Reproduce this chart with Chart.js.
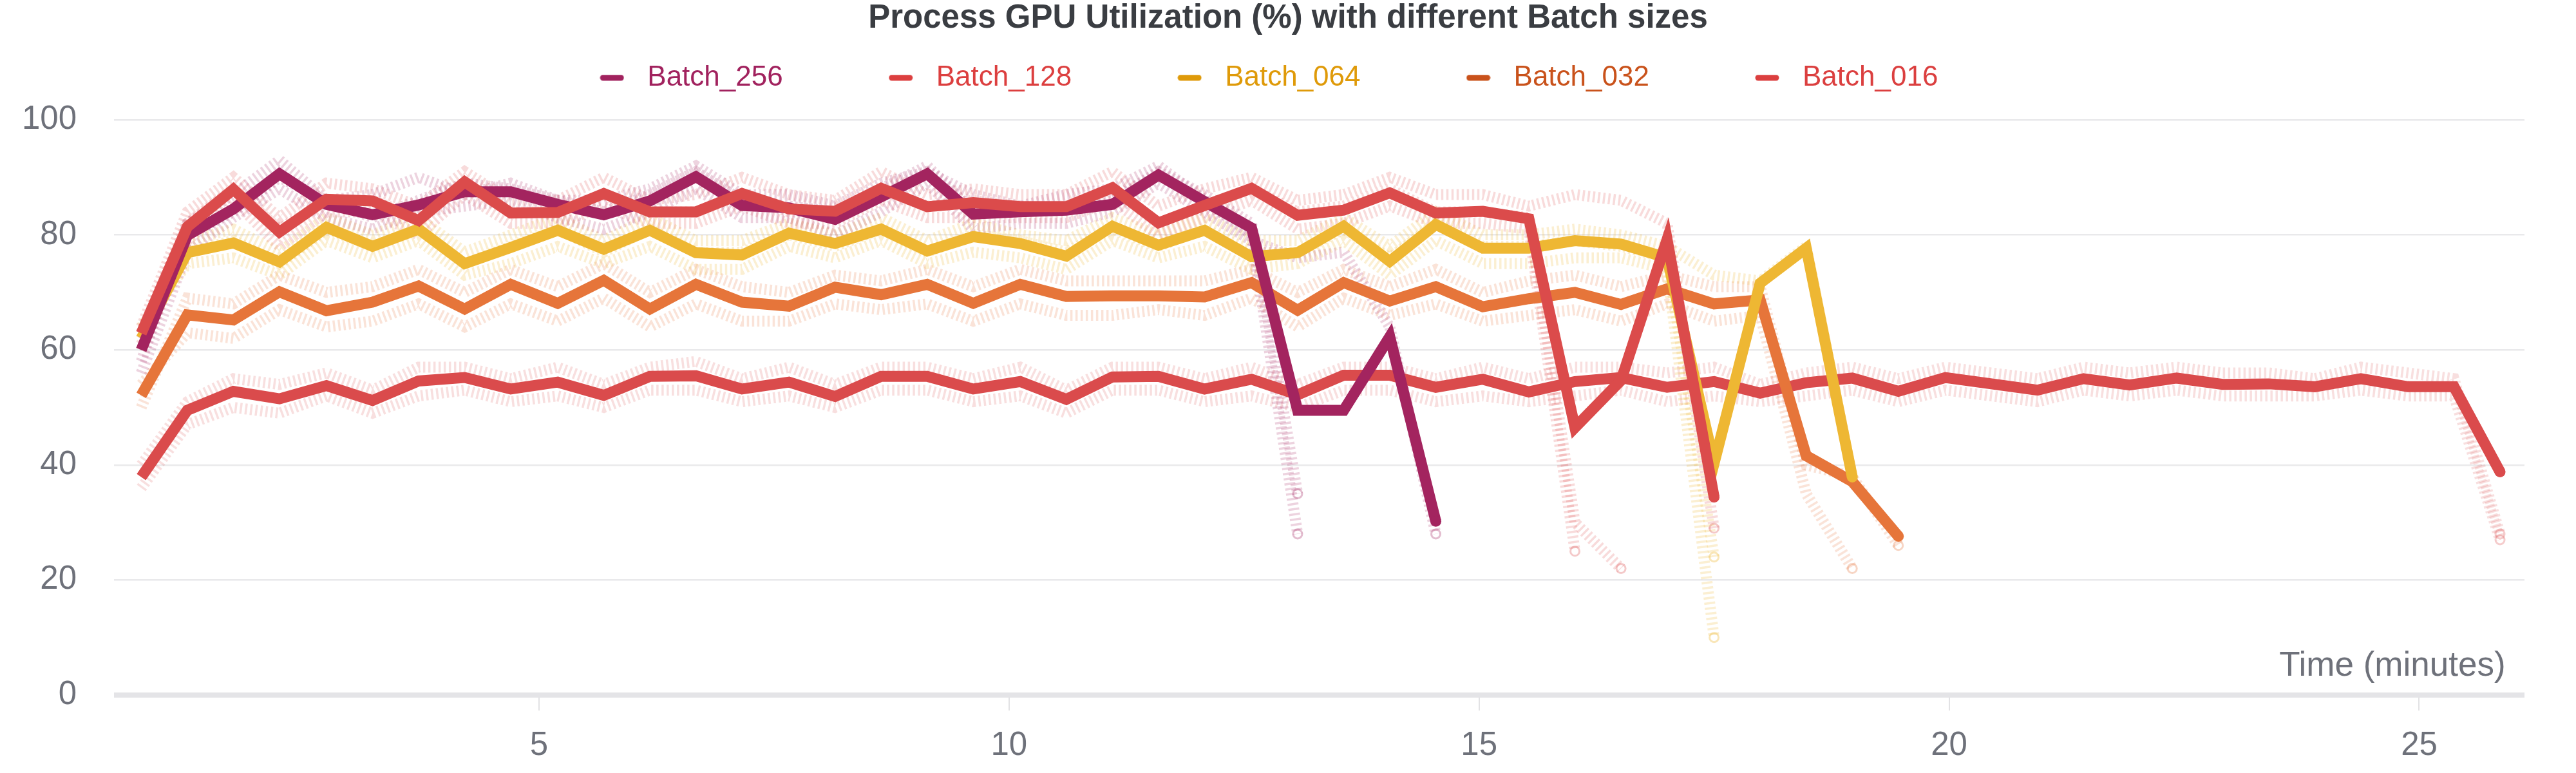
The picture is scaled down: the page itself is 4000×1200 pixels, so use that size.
<!DOCTYPE html>
<html>
<head>
<meta charset="utf-8">
<script src="https://cdn.jsdelivr.net/npm/chart.js@4.4.1/dist/chart.umd.min.js"></script>
<style>
html,body{margin:0;padding:0;background:#ffffff;}
canvas{display:block;}
</style>
</head>
<body>
<canvas id="chart" width="4000" height="1200" style="width:4000px;height:1200px"></canvas>
<script>
// ---------------- DATA ----------------
const chartTitle = 'Process GPU Utilization (%) with different Batch sizes';
const xAxisTitle = 'Time (minutes)';
const seriesNames = ['Batch_256', 'Batch_128', 'Batch_064', 'Batch_032', 'Batch_016'];
const xTickValues = [5, 10, 15, 20, 25];
const yTickValues = [0, 20, 40, 60, 80, 100];

// sample times (minutes)
const times = [0.77, 1.26, 1.75, 2.24, 2.74, 3.23, 3.72, 4.21, 4.70, 5.20, 5.69, 6.18, 6.67, 7.16, 7.66, 8.15, 8.64,
  9.13, 9.62, 10.12, 10.61, 11.10, 11.59, 12.08, 12.58, 13.07, 13.56, 14.05, 14.54, 15.04, 15.53, 16.02, 16.51,
  17.00, 17.50, 17.99, 18.48, 18.97, 19.46, 19.96, 20.45, 20.94, 21.43, 21.92, 22.42, 22.91, 23.40, 23.89, 24.38,
  24.88, 25.37, 25.86];

// main (mean) lines
const batch256 = [60.0, 79.9, 84.5, 90.6, 85.3, 83.5, 85.2, 87.5, 87.5, 85.3, 83.5, 85.9, 90.1, 85.1, 84.7, 82.7, 86.6,
  90.6, 83.6, 84.0, 84.3, 85.3, 90.4, 85.8, 81.2, 49.5, 49.5, 62.3, 30.2];
const batch128 = [62.9, 81.4, 87.9, 80.5, 86.2, 85.9, 82.5, 89.2, 83.8, 83.9, 87.2, 84.0, 84.0, 87.2, 84.5, 84.1, 88.1,
  84.9, 85.6, 84.9, 84.9, 88.2, 82.1, 85.1, 88.1, 83.4, 84.3, 87.3, 83.8, 84.1, 82.8, 46.5, 54.7, 79.2, 34.4];
const batch064 = [62.0, 76.9, 78.6, 75.3, 81.3, 78.0, 81.0, 75.0, 77.8, 80.8, 77.5, 80.8, 76.9, 76.5, 80.3, 78.5, 81.0,
  77.2, 79.7, 78.5, 76.3, 81.5, 78.2, 80.8, 76.2, 76.9, 81.5, 75.4, 81.8, 77.7, 77.7, 79.0, 78.4, 76.0, 40.3, 71.6,
  77.7, 37.9];
const batch032 = [52.1, 66.1, 65.2, 70.1, 66.8, 68.3, 71.1, 67.1, 71.4, 68.1, 72.1, 67.1, 71.4, 68.3, 67.6, 70.9, 69.6,
  71.4, 68.1, 71.4, 69.3, 69.4, 69.4, 69.2, 71.7, 66.9, 71.7, 68.5, 71.0, 67.5, 68.9, 70.0, 67.9, 70.6, 68.0, 68.7,
  41.6, 37.1, 27.6];
const batch016 = [37.9, 49.5, 52.8, 51.5, 53.8, 51.2, 54.6, 55.2, 53.2, 54.4, 52.1, 55.4, 55.5, 53.2, 54.4, 51.9, 55.4,
  55.4, 53.2, 54.5, 51.4, 55.3, 55.4, 53.2, 54.9, 52.2, 55.6, 55.6, 53.5, 54.9, 52.7, 54.5, 55.2, 53.5, 54.5, 52.5,
  54.3, 55.1, 52.8, 55.2, 54.1, 53.0, 55.0, 53.9, 55.1, 54.0, 54.1, 53.6, 55.0, 53.6, 53.6, 38.8];

// faint individual runs (estimated from the hatched traces)
const run256a = [58, 82, 87, 93, 86, 87, 90, 87, 89, 86, 86, 88, 92, 87, 87, 85, 89, 91, 87, 85, 87, 88, 92, 86, 80, 28];
const run256b = [56, 77, 83, 88, 83, 81, 84, 85, 86, 83, 81, 84, 88, 83, 83, 80, 84, 89, 81, 82, 82, 84, 89, 84, 79, 76, 77, 64, 28];
const run256c = [62, 80, 84, 90, 86, 83, 86, 89, 88, 86, 84, 87, 91, 86, 85, 84, 88, 92, 84, 85, 85, 86, 91, 87, 82, 35];
const run128a = [64, 84, 90, 83, 89, 88, 85, 91, 86, 86, 90, 86, 87, 90, 87, 86, 91, 87, 88, 87, 87, 91, 85, 88, 90, 86, 87, 90, 87, 87, 85, 87, 86, 82, 29];
const run128b = [61, 79, 86, 78, 84, 84, 80, 87, 82, 82, 85, 82, 82, 85, 82, 82, 86, 83, 83, 83, 83, 86, 80, 83, 86, 81, 82, 85, 82, 82, 81, 25];
const run128c = [63, 82, 88, 81, 86, 86, 83, 89, 84, 84, 87, 84, 84, 87, 84, 84, 88, 85, 86, 85, 85, 88, 82, 85, 88, 84, 85, 88, 84, 84, 83, 30, 22];
const run064a = [60, 79, 81, 77, 83, 80, 83, 77, 80, 83, 79, 83, 79, 79, 82, 80, 83, 79, 82, 80, 79, 83, 80, 83, 79, 79, 83, 78, 84, 80, 80, 81, 80, 78, 73, 72, 78, 38];
const run064b = [64, 75, 76, 73, 79, 76, 79, 73, 75, 78, 75, 78, 74, 74, 78, 76, 79, 75, 77, 76, 74, 79, 76, 78, 74, 75, 79, 73, 79, 75, 75, 76, 76, 74, 10];
const run064c = [62, 77, 79, 75, 81, 78, 81, 75, 78, 81, 77, 81, 77, 77, 80, 78, 81, 77, 80, 79, 77, 81, 78, 81, 77, 77, 81, 76, 82, 78, 78, 79, 78, 76, 24];
const run032a = [50, 69, 68, 73, 70, 71, 74, 70, 74, 71, 75, 70, 74, 71, 70, 73, 72, 74, 71, 74, 72, 72, 72, 72, 74, 70, 74, 71, 74, 70, 72, 73, 71, 73, 71, 71, 40, 38, 26];
const run032b = [54, 63, 62, 67, 64, 65, 68, 64, 68, 65, 69, 64, 68, 65, 65, 68, 67, 68, 65, 68, 66, 66, 67, 66, 69, 64, 69, 66, 68, 65, 66, 67, 65, 68, 65, 66, 35, 22];
const run016a = [40, 51, 55, 54, 56, 53, 57, 57, 55, 57, 54, 57, 58, 55, 57, 54, 57, 57, 55, 57, 53, 57, 57, 55, 57, 54, 57, 57, 55, 57, 55, 57, 57, 56, 57, 54, 56, 57, 55, 57, 56, 55, 57, 56, 57, 56, 56, 55, 57, 56, 55, 28];
const run016b = [36, 47, 50, 49, 52, 49, 52, 53, 51, 52, 50, 53, 53, 51, 52, 50, 53, 53, 51, 52, 49, 53, 53, 51, 52, 50, 53, 53, 51, 52, 51, 52, 53, 51, 52, 51, 52, 53, 51, 53, 52, 51, 53, 52, 53, 52, 52, 52, 53, 52, 52, 27];

// ---------------- STYLE ----------------
const lineColors = ['#A3245F', '#DB4B4B', '#EEB733', '#E6753A', '#DA4B4C'];
const faintColors = ['rgba(163,36,95,0.20)', 'rgba(219,75,75,0.20)', 'rgba(238,183,51,0.22)', 'rgba(230,117,58,0.20)', 'rgba(218,75,76,0.18)'];
const faintPointColors = ['rgba(163,36,95,0.30)', 'rgba(219,75,75,0.30)', 'rgba(238,183,51,0.35)', 'rgba(230,117,58,0.30)', 'rgba(218,75,76,0.28)'];
const legendColors = ['#A1225E', '#DC3F3F', '#DF9A09', '#C9521B', '#DB3F3F'];
const drawOrder = [2, 1, 3, 4, 5];
const tickColor = '#6E717A';

Chart.defaults.font.family = "'Liberation Sans', Arial, Helvetica, sans-serif";

const mainSeries = [batch256, batch128, batch064, batch032, batch016];
const faintSeries = [
  [run256a, run256b, run256c],
  [run128a, run128b, run128c],
  [run064a, run064b, run064c],
  [run032a, run032b],
  [run016a, run016b]
];

function toPoints(values) {
  return values.map((v, i) => ({ x: times[i], y: v }));
}

const datasets = [];
faintSeries.forEach((runs, s) => {
  runs.forEach((run) => {
    datasets.push({
      label: seriesNames[s] + ' run',
      data: toPoints(run),
      borderColor: faintColors[s],
      borderWidth: 17,
      borderDash: [3.5, 4.5],
      borderCapStyle: 'butt',
      tension: 0,
      fill: false,
      order: 20,
      pointRadius: (ctx) => (ctx.dataIndex === run.length - 1 ? 7 : 0),
      pointBackgroundColor: 'rgba(255,255,255,0)',
      pointBorderColor: faintPointColors[s],
      pointBorderWidth: 3,
      pointHoverRadius: 0
    });
  });
});
const mainIndex = [];
mainSeries.forEach((vals, s) => {
  mainIndex.push(datasets.length);
  datasets.push({
    label: seriesNames[s],
    data: toPoints(vals),
    borderColor: lineColors[s],
    backgroundColor: lineColors[s],
    borderWidth: 17,
    borderCapStyle: 'butt',
    borderJoinStyle: 'miter',
    tension: 0,
    fill: false,
    order: drawOrder[s],
    pointRadius: (ctx) => (ctx.dataIndex === vals.length - 1 ? 8.5 : 0),
    pointBackgroundColor: lineColors[s],
    pointBorderWidth: 0,
    pointHoverRadius: 0
  });
});

// legend markers (short round-capped line)
function makeMarker(color) {
  const c = document.createElement('canvas');
  c.width = 38; c.height = 10;
  const g = c.getContext('2d');
  g.strokeStyle = color; g.lineWidth = 9; g.lineCap = 'round';
  g.beginPath(); g.moveTo(5, 5); g.lineTo(33, 5); g.stroke();
  return c;
}
const markers = legendColors.map(makeMarker);
const legendPad = ['         ', '         ', '         ', '         ', '      '];

const legendGap = {
  id: 'legendGap',
  afterInit(chart) {
    if (!chart.legend) return;
    const fit = chart.legend.fit;
    chart.legend.fit = function () { fit.call(this); this.height += 33.35; };
  }
};

new Chart(document.getElementById('chart'), {
  type: 'line',
  data: { datasets },
  plugins: [legendGap],
  options: {
    responsive: false,
    animation: false,
    devicePixelRatio: 1,
    events: [],
    layout: { padding: { left: 80, right: 80, top: 0, bottom: 0 } },
    plugins: {
      tooltip: { enabled: false },
      title: {
        display: true,
        text: chartTitle,
        color: '#3A3D42',
        font: { size: 51, weight: 'bold', lineHeight: 1.15 },
        padding: { top: 0, bottom: 0 }
      },
      legend: {
        display: true,
        position: 'top',
        labels: {
          usePointStyle: true,
          pointStyleWidth: 66,
          padding: 40,
          font: { size: 44 },
          generateLabels: () => seriesNames.map((name, k) => ({
            text: name + legendPad[k],
            fontColor: legendColors[k],
            fillStyle: legendColors[k],
            strokeStyle: legendColors[k],
            lineWidth: 0,
            pointStyle: markers[k],
            hidden: false,
            datasetIndex: mainIndex[k]
          }))
        }
      }
    },
    scales: {
      x: {
        type: 'linear',
        min: 0.48,
        max: 26.12,
        afterBuildTicks: (scale) => { scale.ticks = xTickValues.map(v => ({ value: v })); },
        border: { display: false },
        grid: { drawOnChartArea: false, drawTicks: true, tickLength: 24, color: '#E2E2E4', lineWidth: 2 },
        ticks: { color: tickColor, font: { size: 51 }, padding: 24, maxRotation: 0, autoSkip: false },
        title: {
          display: true,
          text: xAxisTitle + '  ',
          align: 'end',
          color: tickColor,
          font: { size: 53 },
          padding: { top: -209.8, bottom: 134 }
        }
      },
      y: {
        type: 'linear',
        min: 0,
        max: 100,
        afterBuildTicks: (scale) => { scale.ticks = yTickValues.map(v => ({ value: v })); },
        afterFit: (scale) => { scale.width = 97; },
        border: { display: false },
        grid: {
          drawTicks: false,
          color: (ctx) => (ctx.tick && ctx.tick.value === 0 ? '#E4E4E7' : '#E9E9EB'),
          lineWidth: (ctx) => (ctx.tick && ctx.tick.value === 0 ? 8 : 2.5)
        },
        ticks: { color: tickColor, font: { size: 51 }, mirror: true, crossAlign: 'far', padding: -143 }
      }
    }
  }
});
</script>
</body>
</html>
